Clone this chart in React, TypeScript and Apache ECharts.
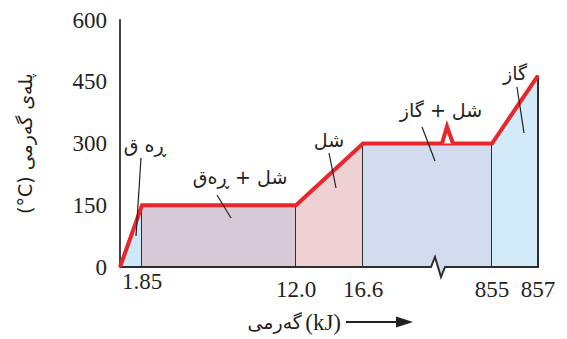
import React, { useEffect, useRef } from "react";
import * as echarts from "echarts";

// Heating curve values
const heatKJ = [0, 1.85, 12.0, 16.6, 855, 857];
const tempC = [0, 150, 150, 300, 300, 465];
const heatLabels = ["0", "1.85", "12.0", "16.6", "855", "857"];
// schematic (broken) x scale: where each heat value sits along the drawn axis
const axisStops = [0, 22, 176, 243, 372, 418];
const breakBottom = 315;
const breakTop = 327;
const yTickValues = [0, 150, 300, 450, 600];
const phaseNames = ["ڕە ق", "شل + ڕەق", "شل", "شل + گاز", "گاز"];
const regionColors = ["#cde8f6", "#d8c9d7", "#efd1d4", "#d3dbee", "#d3eaf8"];

const RED = "#e9262b";
const INK = "#231f20";
const EDGE = "#2e2e2e";
const NUM_FONT = "'Liberation Serif', 'Times New Roman', serif";
const AR_FONT = "'DejaVu Sans', sans-serif";

const labelFor = (pos: number) => {
  const i = axisStops.indexOf(pos);
  return i < 0 ? "" : heatLabels[i];
};

export default function App() {
  const ref = useRef<HTMLDivElement>(null);
  useEffect(() => {
    if (!ref.current) return;
    const chart = echarts.init(ref.current, null, { renderer: "svg" });
    const pts = heatKJ.map((_, i) => [axisStops[i], tempC[i]]);
    const xBase = {
      type: "value",
      min: 0,
      max: axisStops[axisStops.length - 1],
      axisLine: { show: false },
      axisTick: { show: false },
      splitLine: { show: false },
    };
    const option: any = {
      animation: false,
      grid: { left: 120, top: 20, width: 418, height: 247 },
      xAxis: [
        {
          ...xBase,
          axisLabel: {
            customValues: axisStops.slice(2),
            formatter: (v: number) => labelFor(v),
            margin: 11,
            fontFamily: NUM_FONT,
            fontSize: 23,
            color: INK,
          },
        },
        {
          ...xBase,
          position: "bottom",
          axisLabel: {
            customValues: [axisStops[1]],
            formatter: (v: number) => labelFor(v),
            margin: 3,
            fontFamily: NUM_FONT,
            fontSize: 23,
            color: INK,
          },
        },
      ],
      yAxis: {
        type: "value",
        min: 0,
        max: 600,
        interval: 150,
        axisLine: { show: true, lineStyle: { color: EDGE, width: 1.8 } },
        axisTick: { show: false },
        splitLine: { show: false },
        axisLabel: {
          margin: 13,
          fontFamily: NUM_FONT,
          fontSize: 23,
          color: INK,
          formatter: (v: number) => (yTickValues.includes(v) ? String(v) : ""),
        },
        name: "(°C) پلەی گەرمی",
        nameLocation: "middle",
        nameRotate: 90,
        nameGap: 86,
        nameTextStyle: { fontFamily: AR_FONT, fontSize: 19, color: INK },
      },
      series: [
        {
          type: "custom",
          name: "phases",
          data: phaseNames.map((_, i) => [i]),
          z: 1,
          renderItem: (params: any, api: any) => {
            const i = params.dataIndex;
            const p0 = api.coord([axisStops[i], 0]);
            const p1 = api.coord([axisStops[i], tempC[i]]);
            const p2 = api.coord([axisStops[i + 1], tempC[i + 1]]);
            const p3 = api.coord([axisStops[i + 1], 0]);
            let bottom: number[][] = [p3, p0];
            if (breakBottom > axisStops[i] && breakBottom < axisStops[i + 1]) {
              const b = api.coord([breakBottom, 0]);
              bottom = [
                p3,
                [b[0] + 10, b[1]],
                [b[0] + 6, b[1] + 10],
                [b[0], b[1] - 10],
                [b[0] - 4, b[1]],
                p0,
              ];
            }
            return {
              type: "group",
              children: [
                {
                  type: "polygon",
                  shape: { points: [p1, p2, ...bottom] },
                  style: { fill: regionColors[i], stroke: "none" },
                },
                {
                  type: "polyline",
                  shape: { points: [p2, ...bottom] },
                  style: { fill: "none", stroke: EDGE, lineWidth: 2 },
                },
              ],
            };
          },
        },
        {
          type: "line",
          name: "temperature",
          data: pts,
          z: 3,
          symbol: "none",
          lineStyle: { color: RED, width: 4, join: "miter" },
        },
        {
          type: "custom",
          name: "break",
          data: [[breakTop, tempC[3]]],
          z: 4,
          renderItem: (_p: any, api: any) => {
            const c = api.coord([api.value(0), api.value(1)]);
            return {
              type: "polyline",
              shape: {
                points: [
                  [c[0] - 5, c[1]],
                  [c[0], c[1] - 17],
                  [c[0] + 6, c[1]],
                ],
              },
              style: { fill: "#fff", stroke: RED, lineWidth: 4, lineJoin: "miter" },
            };
          },
        },
      ],
      graphic: [
        // phase labels and leader lines
        { type: "text", x: 145, y: 145, z: 10, style: { text: phaseNames[0], font: `19px ${AR_FONT}`, fill: INK, align: "center", verticalAlign: "middle" } },
        { type: "line", z: 10, shape: { x1: 141, y1: 158, x2: 136, y2: 236 }, style: { stroke: INK, lineWidth: 1.2 } },
        { type: "text", x: 240, y: 177, z: 10, style: { text: phaseNames[1], font: `19px ${AR_FONT}`, fill: INK, align: "center", verticalAlign: "middle" } },
        { type: "line", z: 10, shape: { x1: 217, y1: 195, x2: 231, y2: 218 }, style: { stroke: INK, lineWidth: 1.2 } },
        { type: "text", x: 329, y: 140, z: 10, style: { text: phaseNames[2], font: `19px ${AR_FONT}`, fill: INK, align: "center", verticalAlign: "middle" } },
        { type: "line", z: 10, shape: { x1: 329, y1: 153, x2: 336, y2: 188 }, style: { stroke: INK, lineWidth: 1.2 } },
        { type: "text", x: 441, y: 110, z: 10, style: { text: phaseNames[3], font: `19px ${AR_FONT}`, fill: INK, align: "center", verticalAlign: "middle" } },
        { type: "line", z: 10, shape: { x1: 422, y1: 127, x2: 435, y2: 161 }, style: { stroke: INK, lineWidth: 1.2 } },
        { type: "text", x: 515, y: 73, z: 10, style: { text: phaseNames[4], font: `19px ${AR_FONT}`, fill: INK, align: "center", verticalAlign: "middle" } },
        { type: "line", z: 10, shape: { x1: 517, y1: 87, x2: 524, y2: 133 }, style: { stroke: INK, lineWidth: 1.2 } },
        // x axis title with arrow
        {
          type: "text",
          x: 341,
          y: 322,
          z: 10,
          style: {
            text: "{a|گەرمی} {b|(kJ)}",
            align: "right",
            verticalAlign: "middle",
            fill: INK,
            rich: {
              a: { fontFamily: AR_FONT, fontSize: 19, color: INK },
              b: { fontFamily: NUM_FONT, fontSize: 23, color: INK },
            },
          },
        },
        { type: "line", z: 10, shape: { x1: 346, y1: 322, x2: 400, y2: 322 }, style: { stroke: INK, lineWidth: 2 } },
        { type: "polygon", z: 10, shape: { points: [[396, 316.5], [413, 322], [396, 327.5]] }, style: { fill: INK } },
      ],
    };
    chart.setOption(option);
    return () => chart.dispose();
  }, []);
  return (
    <div
      ref={ref}
      style={{ position: "fixed", left: 0, top: 0, width: 567, height: 339, background: "#fff" }}
    />
  );
}
